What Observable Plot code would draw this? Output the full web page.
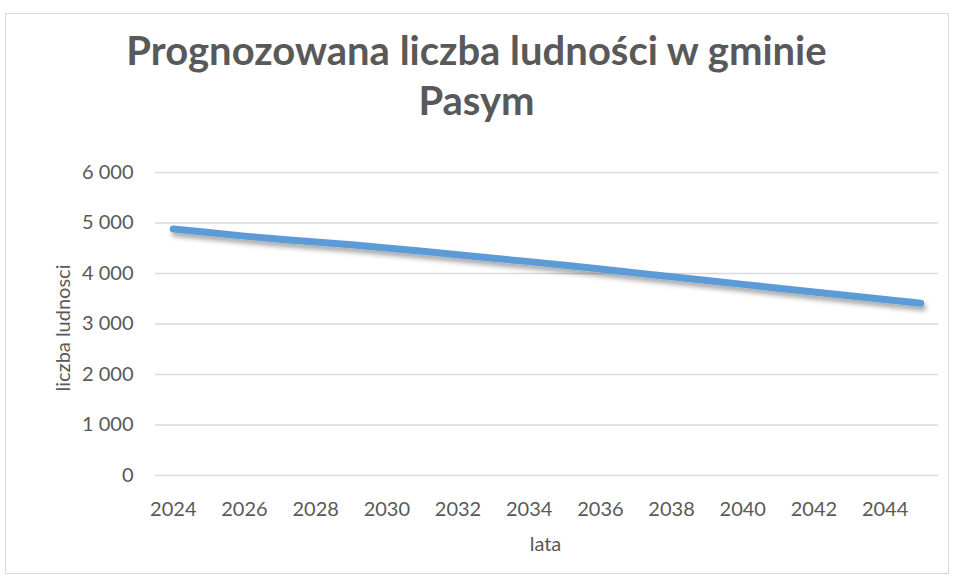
<!DOCTYPE html>
<html>
<head>
<meta charset="utf-8">
<script src="https://cdn.jsdelivr.net/npm/d3@7"></script>
<script src="https://cdn.jsdelivr.net/npm/@observablehq/plot@0.6"></script>
<style>
  html, body { margin: 0; padding: 0; background: #fff; }
  #wrap { position: relative; width: 953px; height: 580px; overflow: hidden; font-family: Lato, "Open Sans", sans-serif; color: #595959; }
  #frame { position: absolute; left: 5px; top: 13px; width: 944px; height: 561px; border: 1px solid #d9d9d9; box-sizing: border-box; }
  #title { position: absolute; left: 0; width: 953px; top: 25px; text-align: center; font-weight: bold; font-size: 40px; line-height: 50px; color: #595959; }
  #chart { position: absolute; left: 0; top: 150px; }
  #xtitle { position: absolute; top: 531px; left: 0; width: 953px; text-align: center; padding-left: 138px; box-sizing: border-box; font-size: 20px; }
  #ytitle { position: absolute; left: 62px; top: 328px; transform: translate(-50%, -50%) rotate(-90deg); white-space: nowrap; font-size: 20px; }
</style>
</head>
<body>
<div id="wrap">
  <div id="frame"></div>
  <div id="title">Prognozowana liczba ludności w gminie<br>Pasym</div>
  <div id="chart"></div>
  <div id="xtitle">lata</div>
  <div id="ytitle">liczba ludnosci</div>
</div>
<script>
const years = [2024,2025,2026,2027,2028,2029,2030,2031,2032,2033,2034,2035,2036,2037,2038,2039,2040,2041,2042,2043,2044,2045];
const population = [4880,4810,4740,4680,4625,4570,4505,4440,4370,4300,4235,4165,4090,4010,3935,3860,3785,3710,3635,3560,3485,3410];
const xTicks = [2024,2026,2028,2030,2032,2034,2036,2038,2040,2042,2044];
const yTicks = [0,1000,2000,3000,4000,5000,6000];

const data = years.map((y, i) => ({year: y, value: population[i]}));
const fmt = d => d3.format(",")(d).replace(/,/g, " ");

const plot = Plot.plot({
  width: 953,
  height: 430,
  marginLeft: 155,
  marginRight: 15,
  marginTop: 22,
  marginBottom: 105,
  style: { fontFamily: "Lato, 'Open Sans', sans-serif", fontSize: "20px", color: "#595959", background: "transparent" },
  x: { domain: [2023.5, 2045.5] },
  y: { domain: [0, 6000] },
  marks: [
    Plot.ruleY(yTicks, { stroke: "#d9d9d9", strokeWidth: 1.5 }),
    Plot.axisY({ ticks: yTicks, tickFormat: fmt, tickSize: 0, tickPadding: 22, label: null, fill: "#595959" }),
    Plot.axisX({ ticks: xTicks, tickFormat: d => String(d), tickSize: 0, tickPadding: 26, label: null, fill: "#595959" }),
    Plot.line(data, { x: "year", y: "value", stroke: "#5b9bd5", strokeWidth: 7, strokeLinecap: "round", strokeLinejoin: "round", className: "mainline" })
  ]
});
document.getElementById("chart").appendChild(plot);

// drop shadow on the line
const svg = d3.select(plot);
const defs = svg.insert("defs", ":first-child");
const f = defs.append("filter").attr("id", "shadow").attr("x", "-5%").attr("y", "-50%").attr("width", "110%").attr("height", "200%");
f.append("feDropShadow").attr("dx", 2).attr("dy", 4).attr("stdDeviation", 2.5).attr("flood-color", "#000").attr("flood-opacity", 0.35);
svg.selectAll(".mainline path").attr("filter", "url(#shadow)");
</script>
</body>
</html>
